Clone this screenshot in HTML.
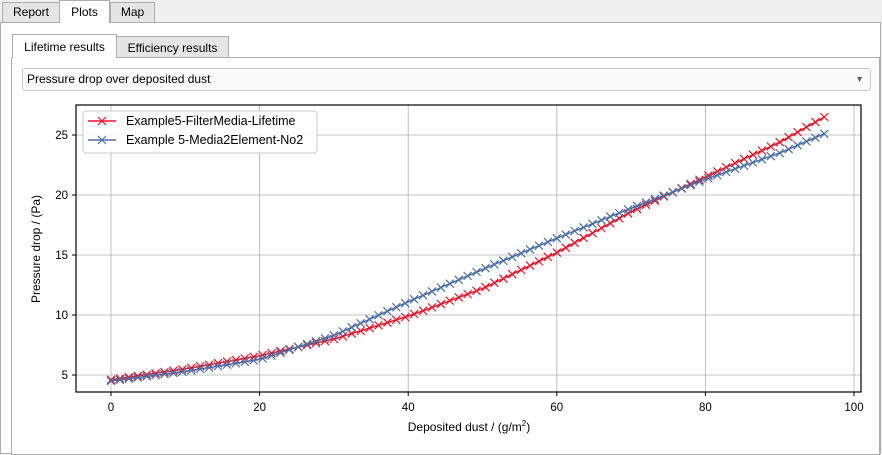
<!DOCTYPE html>
<html><head><style>
body{margin:0;width:882px;height:455px;background:#f0f0f0;font-family:"Liberation Sans",sans-serif;overflow:hidden;position:relative}
.t{position:absolute;font-size:12px;color:#000;border:1px solid #adadad;border-bottom:none;text-align:center;box-sizing:border-box}
</style></head><body>
<div style="position:absolute;left:0;top:22px;width:881px;height:432px;border:1px solid #adadad;box-sizing:border-box;background:#fff"></div>
<div class="t" style="left:2px;top:2px;width:58px;height:20px;line-height:19px;background:#e5e5e5">Report</div>
<div class="t" style="left:59px;top:0;width:51px;height:23px;line-height:22px;background:#fff">Plots</div>
<div class="t" style="left:110px;top:2px;width:45px;height:20px;line-height:19px;background:#e5e5e5">Map</div>
<div style="position:absolute;left:11px;top:57px;width:869px;height:398px;border:1px solid #adadad;box-sizing:border-box;background:#fff"></div>
<div class="t" style="left:12px;top:34px;width:105px;height:24px;line-height:24px;background:#fff">Lifetime results</div>
<div class="t" style="left:116px;top:36px;width:113px;height:21px;line-height:22px;background:#e5e5e5">Efficiency results</div>
<div style="position:absolute;left:22px;top:68px;width:849px;height:23px;border:1px solid #c8c8c8;border-radius:3px;box-sizing:border-box;background:#fafafa;font-size:12px;line-height:21px;padding-left:4px">Pressure drop over deposited dust<span style="position:absolute;right:6px;top:0;color:#666;font-size:9px">▼</span></div>
<svg id="s" style="position:absolute;left:0;top:0" width="882" height="455" font-family="Liberation Sans, sans-serif" font-size="12"></svg>
<script>
var s=document.getElementById('s'),h='';
function X(v){return 111+v*7.43}function Y(v){return 375-(v-5)*12}
var L=76,R=861,T=105,B=392;
[0,20,40,60,80,100].forEach(function(v){var x=X(v);h+='<line x1="'+x+'" y1="'+T+'" x2="'+x+'" y2="'+B+'" stroke="#b0b0b0" stroke-width="0.8"/><line x1="'+x+'" y1="'+B+'" x2="'+x+'" y2="'+(B+4)+'" stroke="#000"/><text x="'+x+'" y="'+(B+19)+'" text-anchor="middle" font-size="11.5">'+v+'</text>';});
[5,10,15,20,25].forEach(function(v){var y=Y(v);h+='<line x1="'+L+'" y1="'+y+'" x2="'+R+'" y2="'+y+'" stroke="#b0b0b0" stroke-width="0.8"/><line x1="'+(L-4)+'" y1="'+y+'" x2="'+L+'" y2="'+y+'" stroke="#000"/><text x="'+(L-8)+'" y="'+(y+4)+'" text-anchor="end" font-size="11.5">'+v+'</text>';});
function ser(pts,c){var p=[],m='';for(var i=0;i<=80;i++){var x=i*1.2,k=0;while(k<pts.length-2&&x>pts[k+1][0])k++;var a=pts[k],b=pts[k+1],y=a[1]+(b[1]-a[1])*(x-a[0])/(b[0]-a[0]);var px=X(x),py=Y(y);p.push(px.toFixed(1)+','+py.toFixed(1));m+='M'+(px-4)+' '+(py-4)+'L'+(px+4)+' '+(py+4)+'M'+(px-4)+' '+(py+4)+'L'+(px+4)+' '+(py-4);}
h+='<polyline points="'+p.join(' ')+'" fill="none" stroke="'+c+'" stroke-width="1.5"/><path d="'+m+'" stroke="'+c+'" stroke-width="1.2" fill="none"/>';}
ser([[0,4.6],[10,5.5],[20,6.6],[30,8.0],[40,9.9],[50,12.2],[60,15.2],[70,18.6],[80,21.5],[90,24.4],[96,26.5]],'#e8152a');
ser([[0,4.5],[10,5.3],[20,6.3],[30,8.3],[40,11.1],[50,13.8],[60,16.4],[70,18.9],[80,21.3],[90,23.5],[96,25.1]],'#4a6fa5');
h+='<rect x="'+L+'" y="'+T+'" width="'+(R-L)+'" height="'+(B-T)+'" fill="none" stroke="#000" stroke-width="1.2"/>';
h+='<rect x="83" y="111" width="234" height="42" rx="3" fill="#fff" fill-opacity="0.85" stroke="#ccc"/>';
h+='<line x1="88" y1="121" x2="116" y2="121" stroke="#e8152a" stroke-width="1.5"/><path d="M98 117L106 125M98 125L106 117" stroke="#e8152a" stroke-width="1.2"/><text x="126" y="125" font-size="12.5">Example5-FilterMedia-Lifetime</text>';
h+='<line x1="88" y1="140" x2="116" y2="140" stroke="#4a6fa5" stroke-width="1.5"/><path d="M98 136L106 144M98 144L106 136" stroke="#4a6fa5" stroke-width="1.2"/><text x="126" y="144" font-size="12.5">Example 5-Media2Element-No2</text>';
h+='<text x="469" y="431" text-anchor="middle" font-size="12">Deposited dust / (g/m<tspan font-size="8" dy="-5">2</tspan><tspan dy="5">)</tspan></text>';
h+='<text transform="translate(40,249) rotate(-90)" text-anchor="middle" font-size="12">Pressure drop / (Pa)</text>';
s.innerHTML=h;
</script>
</body></html>
